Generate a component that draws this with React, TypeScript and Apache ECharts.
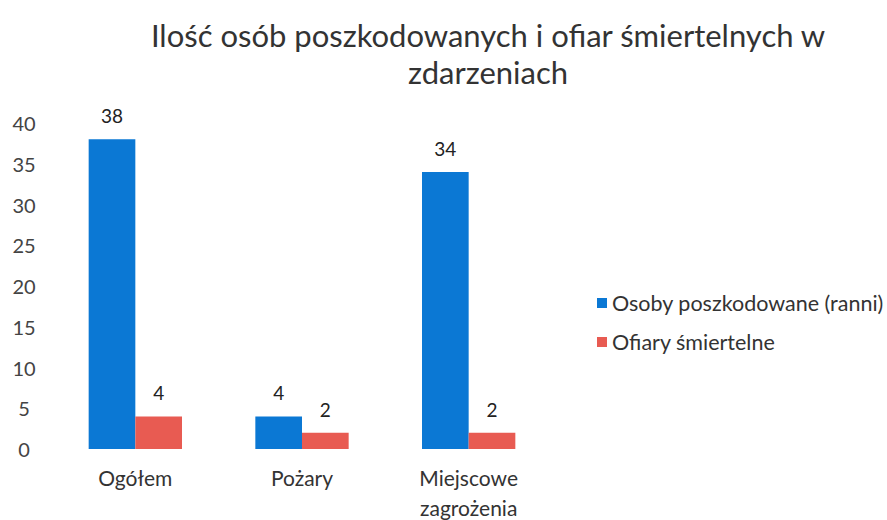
import React, { useEffect, useRef } from "react";
import * as echarts from "echarts";

const categories = ["Ogółem", "Pożary", "Miejscowe\nzagrożenia"];
const injured = [38, 4, 34];
const fatalities = [4, 2, 2];
const seriesNames = ["Osoby poszkodowane (ranni)", "Ofiary śmiertelne"];
const titleText = "Ilość osób poszkodowanych i ofiar śmiertelnych w\nzdarzeniach";

const FONT = "Lato, 'Open Sans', sans-serif";

export default function App() {
  const ref = useRef<HTMLDivElement>(null);
  useEffect(() => {
    if (!ref.current) return;
    const chart = echarts.init(ref.current, undefined, { renderer: "svg" });
    chart.setOption({
      animation: false,
      backgroundColor: "#ffffff",
      textStyle: { fontFamily: FONT },
      title: {
        text: titleText,
        left: 488,
        top: 16,
        padding: 0,
        textAlign: "center",
        textStyle: { fontFamily: FONT, fontSize: 31, fontWeight: "normal", color: "#333", lineHeight: 37 },
      },
      legend: {
        orient: "vertical",
        left: 597,
        top: 292,
        padding: 0,
        itemWidth: 10,
        itemHeight: 10,
        itemGap: 17,
        icon: "rect",
        textStyle: { fontFamily: FONT, fontSize: 21.5, color: "#333" },
        data: seriesNames,
      },
      grid: { left: 52, right: 335, top: 123, bottom: 71, outerBoundsMode: "none" },
      xAxis: {
        type: "category",
        data: categories,
        axisLine: { show: false },
        axisTick: { show: false },
        axisLabel: { fontFamily: FONT, fontSize: 21, color: "#333", margin: 13, lineHeight: 30 },
      },
      yAxis: {
        type: "value",
        min: 0,
        max: 40,
        interval: 5,
        splitLine: { show: false },
        axisLine: { show: false },
        axisTick: { show: false },
        axisLabel: { fontFamily: FONT, fontSize: 20, color: "#444", align: "center", margin: 28 },
      },
      series: [
        {
          name: seriesNames[0],
          type: "bar",
          data: injured,
          barWidth: "28%",
          barGap: "0%",
          itemStyle: { color: "#0b78d4" },
          label: { show: true, position: "top", distance: 14, fontFamily: FONT, fontSize: 19, color: "#222" },
        },
        {
          name: seriesNames[1],
          type: "bar",
          data: fatalities,
          barWidth: "28%",
          itemStyle: { color: "#e85b52" },
          label: { show: true, position: "top", distance: 14, fontFamily: FONT, fontSize: 19, color: "#222" },
        },
      ],
    });
    return () => chart.dispose();
  }, []);
  return (
    <div
      ref={ref}
      style={{ position: "absolute", left: 0, top: 0, width: 887, height: 520 }}
    />
  );
}
